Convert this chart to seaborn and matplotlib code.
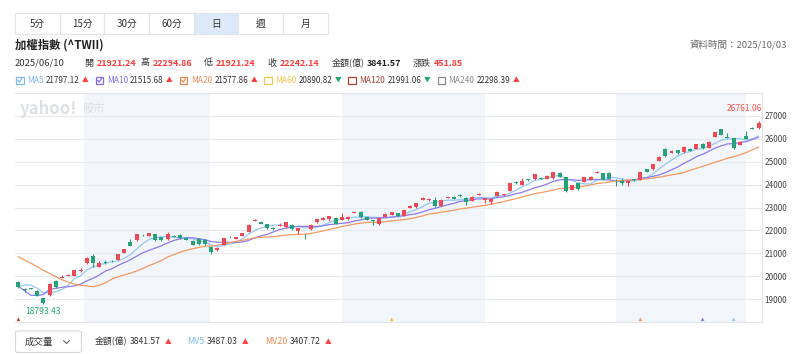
import numpy as np
import pandas as pd
import seaborn as sns
import matplotlib
matplotlib.use("Agg")
import matplotlib.pyplot as plt
from matplotlib.patches import Rectangle, FancyBboxPatch
from matplotlib.lines import Line2D

# 加權指數 daily candles, 2025/04/16 - 2025/10/03
holidays = ["2025-05-01", "2025-05-30", "2025-09-29"]
opens = [19760, 19420, 19470, 19360, 19040, 19190, 19800, 19920, 20000, 20030,
         20240, 20570, 20880, 20400, 20620, 20620, 20710, 21030, 21500, 21560,
         21810, 21760, 21830, 21690, 21620, 21760, 21800, 21650, 21550, 21610,
         21590, 21290, 21150, 21370, 21730, 21640, 21770, 21921.24, 22420, 22380,
         22270, 22110, 22200, 22140, 22240, 21990, 21820, 22050, 22360, 22460,
         22500, 22560, 22460, 22490, 22760, 22820, 22580, 22440, 22270, 22600,
         22680, 22750, 22650, 22980, 23010, 23330, 23340, 23330, 23080, 23420,
         23470, 23530, 23430, 23300, 23560, 23330, 23230, 23520, 23530, 23740,
         24100, 24000, 24220, 24240, 24290, 24250, 24280, 24520, 24320, 23770,
         24060, 24120, 24200, 24520, 24500, 24490, 24170, 24160, 24060, 24220,
         24210, 24670, 24670, 25040, 25540, 25380, 25510, 25420, 25560, 25560,
         25760, 25620, 26100, 26410, 26080, 26020, 25740, 26140, 26470, 26470]
highs = [19800, 19470, 19490, 19380, 19060, 19700, 19830, 20060, 20080, 20290,
         20340, 20830, 20950, 20680, 20700, 20720, 20980, 21200, 21610, 21850,
         21850, 21900, 21850, 21710, 21920, 21790, 21830, 21700, 21570, 21650,
         21610, 21310, 21280, 21680, 21750, 21710, 21890, 22294.86, 22500, 22400,
         22290, 22150, 22320, 22380, 22260, 22110, 21830, 22260, 22510, 22600,
         22640, 22580, 22750, 22620, 22820, 22840, 22600, 22450, 22550, 22740,
         22810, 22770, 22910, 23100, 23210, 23460, 23400, 23480, 23350, 23470,
         23490, 23580, 23450, 23490, 23620, 23430, 23380, 23710, 23610, 24080,
         24140, 24280, 24260, 24480, 24330, 24400, 24560, 24570, 24350, 24000,
         24080, 24340, 24370, 24580, 24520, 24570, 24250, 24310, 24180, 24250,
         24560, 24700, 24910, 25250, 25580, 25490, 25530, 25680, 25600, 25780,
         25800, 25900, 26310, 26440, 26250, 26050, 25890, 26350, 26500, 26761.06]
lows = [19480, 19330, 19430, 19120, 18793.43, 19150, 19480, 19900, 19990, 20010,
        20200, 20550, 20400, 20380, 20530, 20600, 20700, 21020, 21320, 21540,
        21770, 21740, 21540, 21540, 21600, 21690, 21640, 21580, 21350, 21380,
        21380, 20990, 21100, 21350, 21680, 21620, 21750, 21921.24, 22400, 22260,
        22080, 22000, 22180, 22120, 22030, 21840, 21620, 22030, 22340, 22440,
        22410, 22270, 22440, 22470, 22740, 22560, 22440, 22250, 22250, 22590,
        22660, 22590, 22630, 22960, 22990, 23310, 23300, 23020, 23060, 23400,
        23360, 23480, 23130, 23280, 23550, 23190, 23160, 23500, 23510, 23720,
        24040, 23980, 24150, 24220, 24230, 24230, 24260, 24330, 23670, 23750,
        23780, 24100, 24180, 24500, 24190, 24230, 23940, 23980, 23960, 24170,
        24190, 24550, 24650, 25020, 25200, 25360, 25350, 25400, 25450, 25540,
        25570, 25600, 26080, 26150, 26050, 25550, 25720, 25970, 26420, 26440]
closes = [19520, 19390, 19450, 19140, 18830, 19660, 19510, 19950, 20060, 20270,
          20290, 20810, 20570, 20560, 20600, 20610, 20960, 21180, 21340, 21830,
          21790, 21870, 21560, 21560, 21840, 21710, 21660, 21600, 21370, 21400,
          21400, 21040, 21240, 21660, 21700, 21690, 21870, 22242.14, 22460, 22280,
          22100, 22080, 22250, 22360, 22050, 22100, 21790, 22240, 22490, 22560,
          22620, 22290, 22600, 22600, 22790, 22580, 22460, 22420, 22530, 22720,
          22790, 22610, 22890, 23080, 23190, 23430, 23370, 23050, 23330, 23440,
          23380, 23510, 23230, 23470, 23590, 23400, 23360, 23690, 23590, 24060,
          24080, 24170, 24200, 24460, 24270, 24380, 24540, 24350, 23700, 23980,
          23800, 24320, 24350, 24550, 24210, 24250, 24150, 24060, 24160, 24200,
          24540, 24570, 24890, 25200, 25230, 25470, 25380, 25660, 25480, 25760,
          25590, 25880, 26290, 26180, 26060, 25620, 25870, 25990, 26450, 26700]
# closes of the 19 sessions before the window, only to start the averages
pre_closes = [22250, 22200, 22150, 22050, 22350, 22450, 22500, 22200, 22000, 21300,
              21300, 21400, 19232, 18460, 17392, 19000, 19528, 19800, 19900]

ma_periods = [5, 10, 20]
ma_colors = ["#93c9f4", "#8c7cf0", "#f29a62"]

legend_names = ["MA5", "MA10", "MA20", "MA60", "MA120", "MA240"]
legend_values = [21797.12, 21515.68, 21577.86, 20890.82, 21991.06, 22298.39]
legend_up = [True, True, True, False, False, True]
legend_checked = [True, True, True, False, False, False]
legend_colors = ["#7fb9ee", "#7f6fe6", "#ec8a55", "#f3c54b", "#a8432f", "#8a8a8a"]

tabs = ["5分", "15分", "30分", "60分", "日", "週", "月"]
quote_labels = ["開", "高", "低", "收"]
quote_values = [21921.24, 22294.86, 21921.24, 22242.14]
turnover = 3841.57
change = 451.85
mv5, mv20 = 3487.03, 3407.72

RED, GREEN = "#ec4a55", "#25a278"
TXT_RED, TXT_GREEN = "#ff3b3b", "#22a86e"

sns.set_theme(style="white")
plt.rcParams["font.family"] = ["Noto Sans CJK TC", "DejaVu Sans"]

W, H = 800, 354
fig = plt.figure(figsize=(W / 100, H / 100), dpi=100)
fig.patch.set_facecolor("white")
renderer = fig.canvas.get_renderer()


def fx(x):
    return x / W


def fy(y):
    return 1 - y / H


def put(x, y, s, **kw):
    kw.setdefault("va", "center")
    kw.setdefault("fontsize", 6.5)
    kw.setdefault("color", "#333333")
    return fig.text(fx(x), fy(y), s, **kw)


def put_end(x, y, s, **kw):
    # draw a text and give back its right edge in pixels
    t = put(x, y, s, **kw)
    return t.get_window_extent(renderer).x1


# tab bar
tab_w = 44.7
for k, t in enumerate(tabs):
    x0 = 15 + k * tab_w
    fig.add_artist(Rectangle((fx(x0), fy(34.3)), tab_w / W, 21.6 / H, transform=fig.transFigure,
                             facecolor="#dbe9f8" if t == "日" else "white",
                             edgecolor="#e0e4e9", lw=0.8))
    put(x0 + tab_w / 2, 23.5, t, ha="center", fontsize=7)

# title row
put(15, 45.5, "加權指數 (^TWII)", fontsize=8.2, fontweight="bold", color="#222222")
put(787, 45, "資料時間：2025/10/03", ha="right", fontsize=6.8, color="#6b6b6b")

# quote row
put(15, 63, "2025/06/10", fontsize=6.8)
for lab, val, xl in zip(quote_labels, quote_values, [84.3, 140.7, 204, 267.7]):
    e = put_end(xl, 63, lab)
    put(e + 3, 63, f"{val:.2f}", color=TXT_RED, fontweight="bold", fontsize=6.4)
e = put_end(331.7, 63, "金額(億)")
put(e + 2.5, 63, f"{turnover:.2f}", fontweight="bold", color="#222222", fontsize=6.4)
e = put_end(413, 63, "漲跌")
put(e + 3, 63, f"{change:.2f}", color=TXT_RED, fontweight="bold", fontsize=6.4)

# MA legend row
box_x = [16, 94.3, 176.7, 259, 342, 430]
prev_end = 0
for nm, v, u, ck, col, bx in zip(legend_names, legend_values, legend_up, legend_checked,
                                 legend_colors, box_x):
    bx = max(bx, prev_end + 7)
    fig.add_artist(Rectangle((fx(bx), fy(84)), 7.5 / W, 7.5 / H, transform=fig.transFigure,
                             fill=False, edgecolor=col, lw=0.9))
    if ck:
        fig.add_artist(Line2D([fx(bx + 1.7), fx(bx + 3.4), fx(bx + 6)], [fy(80.2), fy(82), fy(78.2)],
                              transform=fig.transFigure, color=col, lw=0.9))
    e = put_end(bx + 11, 80.5, nm, color=col, fontsize=6.0)
    e = put_end(e + 2.3, 80.5, f"{v:.2f}", fontsize=5.8, color="#333333")
    prev_end = put_end(e + 2.5, 80.5, "▲" if u else "▼", fontsize=4.8,
                       color=TXT_RED if u else TXT_GREEN)

# main chart
ax = fig.add_axes([fx(15), fy(322), (762 - 15) / W, (322 - 93) / H])
n = len(closes)
idx = np.arange(n)
o, h, l, c = (np.array(a, dtype=float) for a in (opens, highs, lows, closes))

days = pd.bdate_range("2025-04-16", "2025-10-03").drop(pd.to_datetime(holidays))
month_starts = pd.date_range("2025-05-01", "2025-10-01", freq="MS")
edges = np.interp(month_starts.values.astype("int64"), days.values.astype("int64"), idx)
for a, b in zip(edges[0::2], edges[1::2]):
    ax.axvspan(a, b, color="#f2f5f9", lw=0, zorder=0)

full = pd.Series(pre_closes + closes, dtype=float)
for p, col in zip(ma_periods, ma_colors):
    ma = full.rolling(p).mean().iloc[-n:].to_numpy()
    sns.lineplot(x=idx, y=ma, ax=ax, color=col, lw=0.9, zorder=2)

cols = np.where(c >= o, RED, GREEN)
ax.vlines(idx, l, h, colors=cols, lw=0.8, zorder=3)
body = np.maximum(np.abs(c - o), 30)
ax.bar(idx, body, bottom=np.minimum(o, c) - (body - np.abs(c - o)) / 2, width=0.64,
       color=cols, lw=0, zorder=4)

imax, imin = int(np.argmax(h)), int(np.argmin(l))
ax.annotate(f"{h[imax]:.2f}", xy=(imax, h[imax]), xytext=(2.2, 9), textcoords="offset points",
            ha="right", va="center", fontsize=6.1, color="#ff5050")
ax.annotate(f"{l[imin]:.2f}", xy=(imin, l[imin]), xytext=(0, -5.2), textcoords="offset points",
            ha="center", va="center", fontsize=6.1, color=TXT_GREEN)

# small markers where each MA window starts
mark_periods = [5, 10, 20, 60, 120]
mark_colors = ["#93c9f4", "#8c7cf0", "#f29a62", "#f0bd45", "#a8432f"]
ax.scatter([n - p for p in mark_periods], [0.012] * 5, marker="^", s=7, c=mark_colors,
           transform=ax.get_xaxis_transform(), zorder=5, lw=0, clip_on=False)

ax.text(0.006, 0.97, "yahoo!", transform=ax.transAxes, fontsize=12, fontweight="bold",
        fontstyle="italic", color="#dde0e5", va="top", ha="left", zorder=1)
ax.text(0.091, 0.955, "股市", transform=ax.transAxes, fontsize=8, color="#dde0e5",
        va="top", ha="left", zorder=1)

ax.set_xlim(-0.55, n - 0.45)
ax.set_ylim(18000, 28000)
ax.set_xticks([])
ax.set_yticks(range(19000, 28000, 1000))
ax.yaxis.tick_right()
ax.tick_params(axis="y", length=0, pad=1.8, labelsize=5.9, labelcolor="#444444")
ax.grid(axis="y", color="#e7eaee", lw=0.8)
ax.set_axisbelow(True)
ax.set_xlabel("")
ax.set_ylabel("")
ax.spines["left"].set_visible(False)
for s in ["top", "bottom", "right"]:
    ax.spines[s].set_color("#e3e6ea")
    ax.spines[s].set_linewidth(0.8)

# volume selector row
fig.add_artist(FancyBboxPatch((fx(15.5), fy(352.5)), 66 / W, 21.5 / H, transform=fig.transFigure,
                              boxstyle="round,pad=0,rounding_size=0.004", facecolor="white",
                              edgecolor="#d5d9de", lw=0.8))
put(25, 342, "成交量", fontsize=6.8)
fig.add_artist(Line2D([fx(63.5), fx(66.5), fx(69.5)], [fy(340.5), fy(343.5), fy(340.5)],
                      transform=fig.transFigure, color="#666666", lw=0.8))
e = put_end(95, 342, "金額(億)", fontsize=6.4)
e = put_end(e + 2.5, 342, f"{turnover:.2f}", fontsize=6.2)
put(e + 4, 342, "▲", fontsize=4.8, color=TXT_RED)
e = put_end(187, 342, "MV5", fontsize=6.4, color="#7fb9ee")
e = put_end(e + 2.5, 342, f"{mv5:.2f}", fontsize=6.2)
put(e + 4, 342, "▲", fontsize=4.8, color=TXT_RED)
e = put_end(265, 342, "MV20", fontsize=6.4, color="#ec8a55")
e = put_end(e + 2.5, 342, f"{mv20:.2f}", fontsize=6.2)
put(e + 4, 342, "▲", fontsize=4.8, color=TXT_RED)

fig.savefig("out.png", dpi=100)
